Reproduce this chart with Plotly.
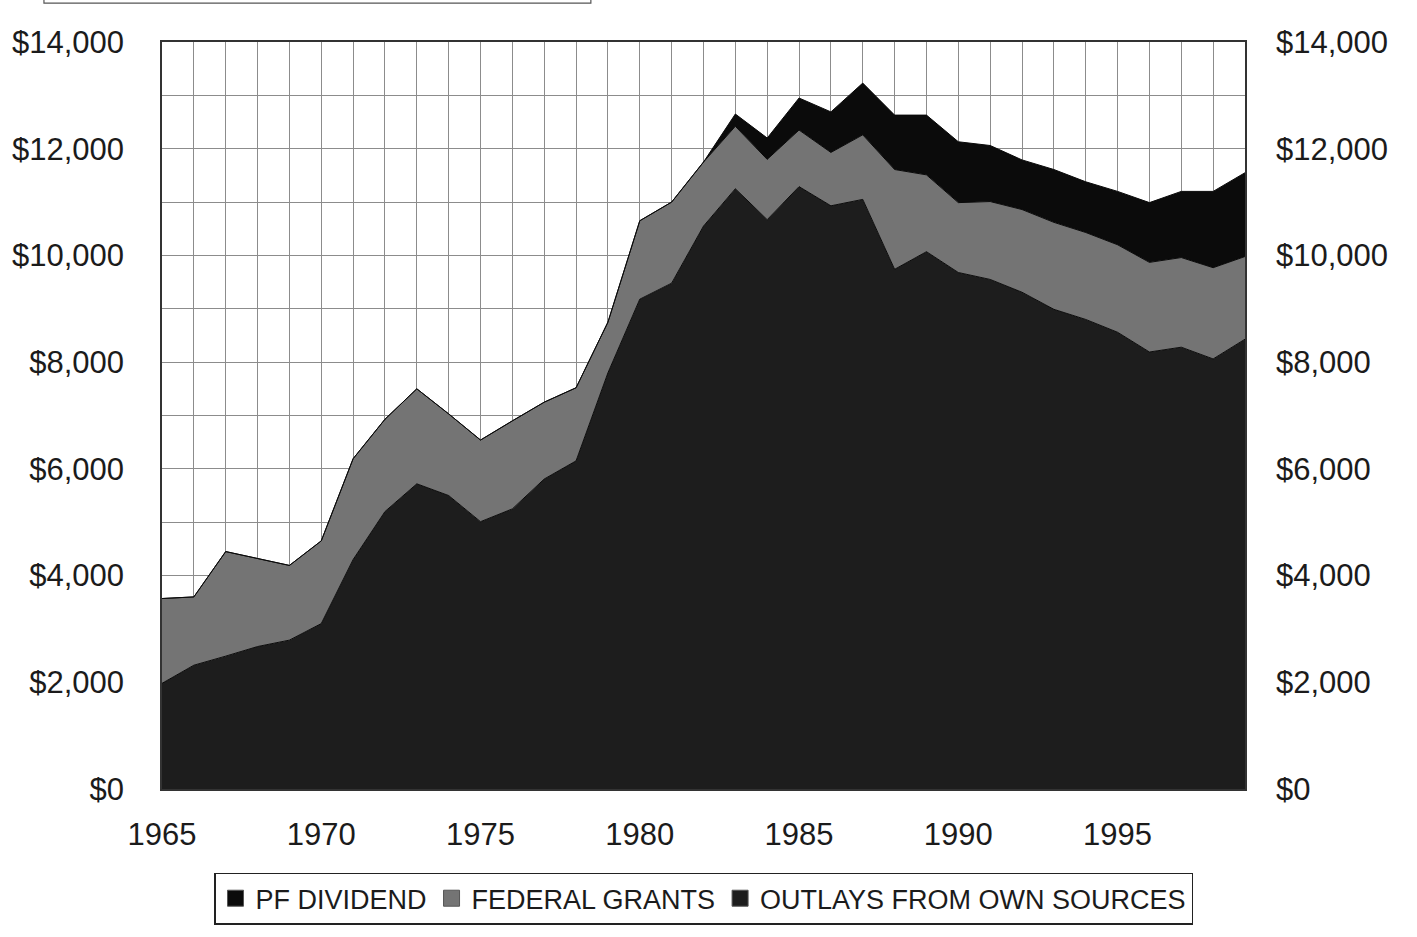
import plotly.graph_objects as go

# Fiscal years shown on the horizontal axis
years = list(range(1965, 2000))

# Spending components, dollars (stacked bottom to top)
outlays_own_sources = [
    1980, 2320, 2490, 2670, 2790, 3100, 4300, 5200, 5720, 5500,
    5010, 5250, 5810, 6150, 7800, 9180, 9480, 10550, 11250, 10670,
    11290, 10930, 11050, 9740, 10070, 9680, 9550, 9310, 8990, 8800,
    8560, 8190, 8280, 8060, 8430,
]
federal_grants = [
    1590, 1280, 1960, 1650, 1400, 1550, 1890, 1730, 1780, 1530,
    1530, 1650, 1440, 1370, 950, 1470, 1520, 1200, 1170, 1130,
    1060, 1000, 1210, 1870, 1440, 1310, 1460, 1550, 1630, 1630,
    1640, 1680, 1680, 1710, 1550,
]
pf_dividend = [
    0, 0, 0, 0, 0, 0, 0, 0, 0, 0,
    0, 0, 0, 0, 0, 0, 0, 0, 230, 400,
    600, 760, 970, 1020, 1120, 1140, 1050, 930, 990, 950,
    1000, 1120, 1240, 1430, 1570,
]

series_names = ["OUTLAYS FROM OWN SOURCES", "FEDERAL GRANTS", "PF DIVIDEND"]
x_tick_years = [1965, 1970, 1975, 1980, 1985, 1990, 1995]
y_tick_values = [0, 2000, 4000, 6000, 8000, 10000, 12000, 14000]
y_tick_labels = ["${:,}".format(v) for v in y_tick_values]

FONT = "Arial, Liberation Sans, Helvetica, sans-serif"
TEXT = "#1b1b1b"
GRID = "#8c8c8c"

fill_colors = ["#1d1d1d", "#747474", "#0b0b0b"]

fig = go.Figure()
for name, values, color in zip(series_names,
                               [outlays_own_sources, federal_grants, pf_dividend],
                               fill_colors):
    fig.add_trace(go.Scatter(
        x=years, y=values, name=name, mode="lines",
        stackgroup="one", fillcolor=color,
        line=dict(color="#0a0a0a", width=1),
        hoverinfo="x+y+name", showlegend=False,
    ))

# square swatches for the legend
for name, color in zip(series_names, fill_colors):
    fig.add_trace(go.Scatter(
        x=[None], y=[None], name=name, mode="markers",
        marker=dict(symbol="square", size=16, color=color,
                    line=dict(color="#555555", width=1)),
        hoverinfo="skip",
    ))

# invisible trace so the right-hand axis is drawn
fig.add_trace(go.Scatter(
    x=[years[0]], y=[0], yaxis="y2", mode="markers",
    marker=dict(opacity=0), showlegend=False, hoverinfo="skip",
))

yaxis_common = dict(
    range=[0, 14000],
    tickmode="array", tickvals=y_tick_values, ticktext=y_tick_labels,
    tickfont=dict(family=FONT, size=31, color=TEXT),
    ticks="", ticklabelstandoff=30,
    zeroline=False,
)

fig.update_layout(
    width=1417, height=937,
    margin=dict(l=160, r=172, t=42, b=146),
    paper_bgcolor="white", plot_bgcolor="white",
    showlegend=True,
    legend=dict(
        orientation="h", traceorder="reversed",
        x=0.5, xanchor="center", y=-0.112, yanchor="top",
        font=dict(family=FONT, size=27, color=TEXT),
        bordercolor="#222222", borderwidth=1.5,
        bgcolor="white", itemwidth=30,
        tracegroupgap=0,
    ),
    xaxis=dict(
        range=[1965, 1999],
        tickvals=x_tick_years,
        tickfont=dict(family=FONT, size=31, color=TEXT),
        ticks="", ticklabelstandoff=17,
        showgrid=True, gridcolor=GRID, gridwidth=1,
        minor=dict(dtick=1, tick0=1965, showgrid=True, gridcolor=GRID, gridwidth=1),
        showline=True, linecolor="#333333", linewidth=1.5, mirror=True,
        zeroline=False,
    ),
    yaxis=dict(
        **yaxis_common,
        showgrid=True, gridcolor=GRID, gridwidth=1,
        minor=dict(dtick=1000, tick0=0, showgrid=True, gridcolor=GRID, gridwidth=1),
        showline=True, linecolor="#333333", linewidth=1.5, mirror=True,
    ),
    yaxis2=dict(
        **yaxis_common,
        overlaying="y", side="right", showgrid=False, showline=False,
    ),
    shapes=[
        # lower edge of the framed heading box at the top of the page
        dict(type="rect", xref="paper", yref="paper",
             x0=-0.109, x1=0.396, y0=1.052, y1=1.2,
             line=dict(color="#555555", width=1.2), fillcolor="rgba(0,0,0,0)"),
    ],
)

fig.write_html("out.html")
